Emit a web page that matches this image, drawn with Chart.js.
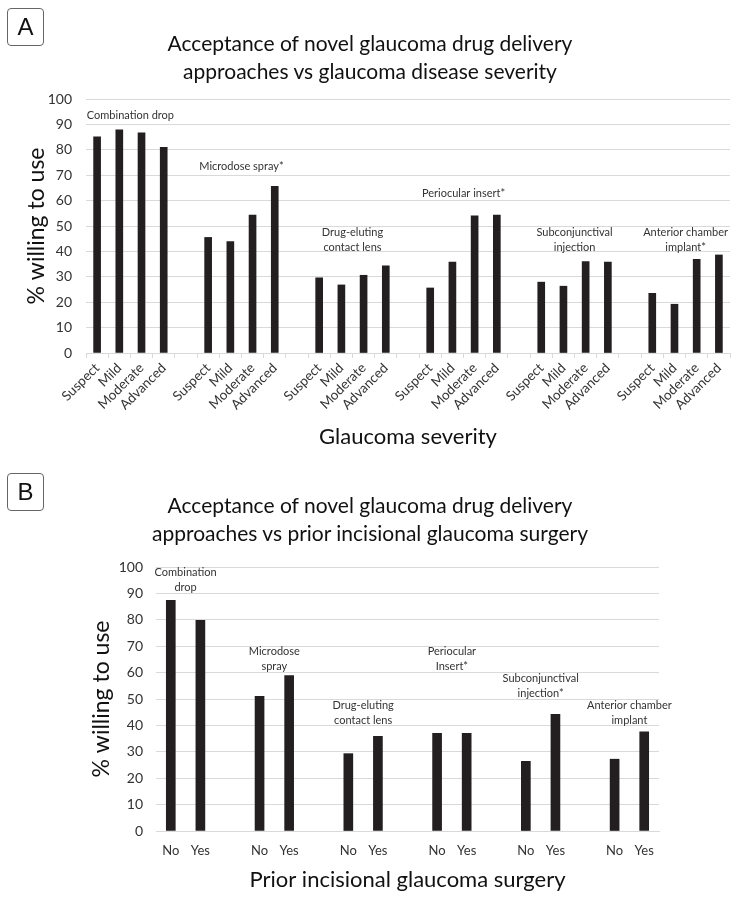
<!DOCTYPE html>
<html>
<head>
<meta charset="utf-8">
<script src="https://cdn.jsdelivr.net/npm/chart.js@4.4.1/dist/chart.umd.min.js"></script>
<style>
  body { margin: 0; background: #fff; width: 747px; height: 913px; position: relative; overflow: hidden; font-family: Lato, "Open Sans", sans-serif; }
  canvas { position: absolute; left: 0; }
  #chartA { top: 0; }
  #chartB { top: 460px; }
  .panel { position: absolute; left: 7px; width: 35px; height: 36px; border: 1px solid #666; border-radius: 4px;
           font: 24px "Liberation Sans", Arial, sans-serif; color: #111; text-align: center; line-height: 36px; z-index: 2; }
  .title { position: absolute; left: 0; width: 740px; text-align: center; font-size: 21px; line-height: 28px; color: #111; z-index: 2; }
</style>
</head>
<body>
<div class="panel" style="top:8px">A</div>
<div class="title" style="top:29px">Acceptance of novel glaucoma drug delivery<br>approaches vs glaucoma disease severity</div>
<canvas id="chartA" width="747" height="460"></canvas>

<div class="panel" style="top:473px">B</div>
<div class="title" style="top:491px">Acceptance of novel glaucoma drug delivery<br>approaches vs prior incisional glaucoma surgery</div>
<canvas id="chartB" width="747" height="453"></canvas>

<script>
// delivery approaches (group labels, one array entry per line)
const approachesA = [
  ["Combination drop"],
  ["Microdose spray*"],
  ["Drug-eluting", "contact lens"],
  ["Periocular insert*"],
  ["Subconjunctival", "injection"],
  ["Anterior chamber", "implant*"]
];
const approachesB = [
  ["Combination", "drop"],
  ["Microdose", "spray"],
  ["Drug-eluting", "contact lens"],
  ["Periocular", "Insert*"],
  ["Subconjunctival", "injection*"],
  ["Anterior chamber", "implant"]
];

const severity = ["Suspect", "Mild", "Moderate", "Advanced"];
const surgery = ["No", "Yes"];

// % willing to use, panel A (Suspect, Mild, Moderate, Advanced)
const combinationA = [85.1, 87.9, 86.7, 81.0];
const microdoseA   = [45.5, 43.9, 54.3, 65.6];
const drugElutingA = [29.6, 26.8, 30.6, 34.3];
const periocularA  = [25.6, 35.8, 54.0, 54.3];
const subconjA     = [27.9, 26.3, 36.0, 35.8];
const anteriorA    = [23.5, 19.2, 36.9, 38.6];

// % willing to use, panel B (No, Yes)
const combinationB = [87.4, 79.8];
const microdoseB   = [51.0, 58.9];
const drugElutingB = [29.3, 35.9];
const periocularB  = [37.0, 37.0];
const subconjB     = [26.4, 44.2];
const anteriorB    = [27.2, 37.6];

const yTicks = [0, 10, 20, 30, 40, 50, 60, 70, 80, 90, 100];

const seriesA = [combinationA, microdoseA, drugElutingA, periocularA, subconjA, anteriorA];
const seriesB = [combinationB, microdoseB, drugElutingB, periocularB, subconjB, anteriorB];

// flatten groups with one empty category between them
function flatten(groups, subLabels) {
  const labels = [], data = [], centers = [];
  groups.forEach((vals, g) => {
    if (g > 0) { labels.push(""); data.push(null); }
    centers.push(labels.length + (subLabels.length - 1) / 2);
    subLabels.forEach((l, i) => { labels.push(l); data.push(vals[i]); });
  });
  return { labels, data, centers };
}

const flatA = flatten(seriesA, severity);
const flatB = flatten(seriesB, surgery);

const BAR = "#231f20";
const GRID = "#d9d9d9";
const TXT = "#333";
const FONT = "Lato, 'Open Sans', sans-serif";

// draws the approach names above each group
const groupLabels = {
  id: "groupLabels",
  afterDatasetsDraw(chart, args, opts) {
    const { ctx, scales: { x, y } } = chart;
    ctx.save();
    ctx.fillStyle = TXT;
    ctx.font = "11px " + FONT;
    ctx.textAlign = "center";
    ctx.textBaseline = "middle";
    opts.names.forEach((lines, g) => {
      const cx = x.getPixelForValue(opts.centers[g]);
      const cy = y.getPixelForValue(opts.levels[g]);
      lines.forEach((t, i) => ctx.fillText(t, cx, cy + i * 15));
    });
    ctx.restore();
  }
};

function makeChart(id, flat, names, levels, cfg) {
  return new Chart(document.getElementById(id).getContext("2d"), {
    type: "bar",
    data: {
      labels: flat.labels,
      datasets: [{
        data: flat.data,
        backgroundColor: BAR,
        barThickness: cfg.barWidth
      }]
    },
    plugins: [groupLabels],
    options: {
      responsive: false,
      animation: false,
      layout: { padding: { top: cfg.top, right: cfg.right, left: 0, bottom: 0 } },
      plugins: {
        legend: { display: false },
        tooltip: { enabled: false },
        groupLabels: { names, levels, centers: flat.centers }
      },
      scales: {
        x: {
          offset: true,
          afterFit: s => { s.height = cfg.xHeight; },
          grid: {
            offset: true,
            drawOnChartArea: false,
            drawTicks: cfg.xTicks,
            tickLength: 5,
            color: GRID
          },
          border: { color: GRID },
          ticks: {
            autoSkip: false,
            minRotation: cfg.rotation,
            maxRotation: cfg.rotation,
            padding: cfg.xPad,
            color: TXT,
            font: { family: FONT, size: cfg.xFont }
          },
          title: {
            display: true,
            text: cfg.xTitle,
            color: "#111",
            font: { family: FONT, size: 22 },
            padding: { top: 0, bottom: cfg.xTitlePad }
          }
        },
        y: {
          min: 0,
          max: 100,
          afterFit: s => { s.width = cfg.yWidth; },
          afterBuildTicks: s => { s.ticks = yTicks.map(v => ({ value: v })); },
          grid: { color: GRID, drawTicks: false },
          border: { display: false },
          ticks: {
            padding: cfg.yPad,
            color: TXT,
            font: { family: FONT, size: 14 }
          },
          title: {
            display: true,
            text: "% willing to use",
            color: "#111",
            font: { family: FONT, size: 23 },
            padding: { top: cfg.yTitlePad, bottom: 0 }
          }
        }
      }
    }
  });
}

makeChart("chartA", flatA, approachesA,
  [93.7, 73.6, 47.6, 63.0, 47.6, 47.6],
  { barWidth: 7, top: 99, right: 17, xHeight: 107, yWidth: 86, xTicks: true, rotation: 45,
    xPad: 2, xFont: 13.5, xTitle: "Glaucoma severity", xTitlePad: 10, yPad: 14, yTitlePad: 23 });

makeChart("chartB", flatB, approachesB,
  [98.1, 67.9, 47.5, 67.9, 57.8, 47.5],
  { barWidth: 9, top: 107, right: 88, xHeight: 82, yWidth: 156, xTicks: false, rotation: 0,
    xPad: 12, xFont: 13, xTitle: "Prior incisional glaucoma surgery", xTitlePad: 20, yPad: 13, yTitlePad: 88 });
</script>
</body>
</html>
